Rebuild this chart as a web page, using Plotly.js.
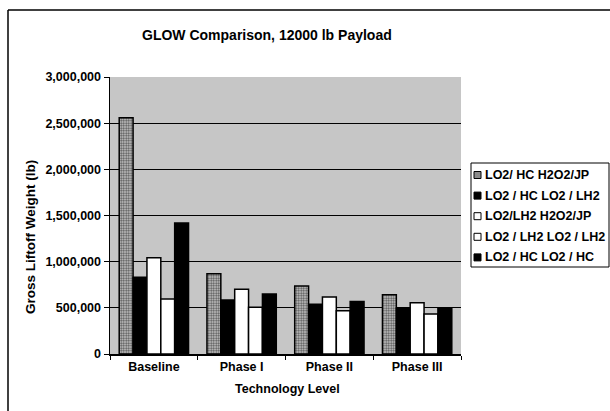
<!DOCTYPE html>
<html>
<head>
<meta charset="utf-8">
<script src="https://cdn.plot.ly/plotly-3.0.1.min.js"></script>
<style>html,body{margin:0;padding:0;background:#fff;}#chart{width:610px;height:411px;}</style>
</head>
<body>
<div id="chart"></div>
<script>
// ---- data ----
const categories = ["Baseline", "Phase I", "Phase II", "Phase III"];
const seriesNames = ["LO2/ HC H2O2/JP", "LO2 / HC LO2 / LH2", "LO2/LH2 H2O2/JP", "LO2 / LH2 LO2 / LH2", "LO2 / HC LO2 / HC"];
const hcH2o2 =   [2560000, 868000, 737000, 642000];
const hcLh2 =    [830000, 585000, 540000, 498000];
const lh2H2o2 =  [1042000, 700000, 617000, 555000];
const lh2Lh2 =   [597000, 505000, 468000, 432000];
const hcHc =     [1420000, 650000, 568000, 502000];
const yTickVals = [0, 500000, 1000000, 1500000, 2000000, 2500000, 3000000];
const yTickText = ["0", "500,000", "1,000,000", "1,500,000", "2,000,000", "2,500,000", "3,000,000"];

const seriesValues = [hcH2o2, hcLh2, lh2H2o2, lh2Lh2, hcHc];

// ---- styles ----
const W = 610, H = 411;
const M = {l: 110, r: 149, t: 77, b: 57};
const PW = W - M.l - M.r, PH = H - M.t - M.b;
const px2x = p => (p - M.l) / PW;
const px2y = p => (H - M.b - p) / PH;
const FONT = "Liberation Sans, Arial, sans-serif";

const styles = [
  {color: '#a8a8a8', pattern: {shape: '.', fgcolor: '#555', bgcolor: '#d0d0d0', size: 2.5, solidity: 0.5}},
  {color: '#000000'},
  {color: '#ffffff'},
  {color: '#ffffff'},
  {color: '#000000'}
];

const traces = seriesValues.map((vals, i) => {
  const mk = {color: styles[i].color, line: {color: '#000', width: 1.5}};
  if (styles[i].pattern) mk.pattern = styles[i].pattern;
  return {type: 'bar', name: seriesNames[i], x: categories, y: vals, marker: mk, showlegend: false};
});

const shapes = [];
const annotations = [];
// frame lines
shapes.push({type: 'line', xref: 'paper', yref: 'paper', x0: px2x(8), x1: px2x(610), y0: px2y(10), y1: px2y(10), line: {color: '#000', width: 1.5}});
shapes.push({type: 'line', xref: 'paper', yref: 'paper', x0: px2x(8), x1: px2x(8), y0: px2y(10), y1: px2y(411), line: {color: '#000', width: 1.5}});
// legend box
shapes.push({type: 'rect', xref: 'paper', yref: 'paper', x0: px2x(471), x1: px2x(609), y0: px2y(163), y1: px2y(267), line: {color: '#000', width: 1}, fillcolor: '#fff'});
const legY0 = 175, legDy = 20.6;
seriesNames.forEach((nm, i) => {
  const yc = legY0 + i * legDy;
  shapes.push({type: 'rect', xref: 'paper', yref: 'paper', x0: px2x(474), x1: px2x(481), y0: px2y(yc - 3.5), y1: px2y(yc + 3.5),
    line: {color: '#000', width: 1}, fillcolor: i === 0 ? '#8a8a8a' : styles[i].color});
  annotations.push({xref: 'paper', yref: 'paper', x: px2x(483), y: px2y(yc), xanchor: 'left', yanchor: 'middle', showarrow: false,
    text: nm, font: {family: FONT, size: 12.5, color: '#000', weight: 'bold'}});
});
// y title
annotations.push({xref: 'paper', yref: 'paper', x: px2x(30), y: px2y(237), xanchor: 'center', yanchor: 'middle', showarrow: false,
  textangle: -90, text: 'Gross Liftoff Weight (lb)', font: {family: FONT, size: 13.5, color: '#000', weight: 'bold'}});
// chart title
annotations.push({xref: 'paper', yref: 'paper', x: px2x(267), y: px2y(35), xanchor: 'center', yanchor: 'middle', showarrow: false,
  text: 'GLOW Comparison, 12000 lb Payload', font: {family: FONT, size: 14, color: '#000', weight: 'bold'}});
// x title
annotations.push({xref: 'paper', yref: 'paper', x: px2x(287), y: px2y(389), xanchor: 'center', yanchor: 'middle', showarrow: false,
  text: 'Technology Level', font: {family: FONT, size: 12.5, color: '#000', weight: 'bold'}});

const layout = {
  width: W, height: H,
  margin: M,
  paper_bgcolor: '#ffffff',
  plot_bgcolor: '#c6c6c6',
  barmode: 'group',
  bargap: 0.21,
  bargroupgap: 0,
  showlegend: false,
  font: {family: FONT, size: 12, color: '#000'},
  xaxis: {
    type: 'category',
    showline: true, linecolor: '#000', linewidth: 1.5,
    ticks: 'outside', tickson: 'boundaries', ticklen: 4, tickcolor: '#000', tickwidth: 1,
    tickfont: {family: FONT, size: 12.5, color: '#000', weight: 'bold'},
    showgrid: false, mirror: false
  },
  yaxis: {
    range: [0, 3000000],
    tickvals: yTickVals, ticktext: yTickText,
    showline: true, linecolor: '#000', linewidth: 1.5,
    ticks: 'outside', ticklen: 5, tickcolor: '#000', tickwidth: 1,
    tickfont: {family: FONT, size: 12.5, color: '#000', weight: 'bold'},
    showgrid: true, gridcolor: '#000', gridwidth: 1,
    zeroline: false
  },
  shapes: shapes,
  annotations: annotations
};

Plotly.newPlot('chart', traces, layout, {displayModeBar: false, staticPlot: true});
</script>
</body>
</html>
